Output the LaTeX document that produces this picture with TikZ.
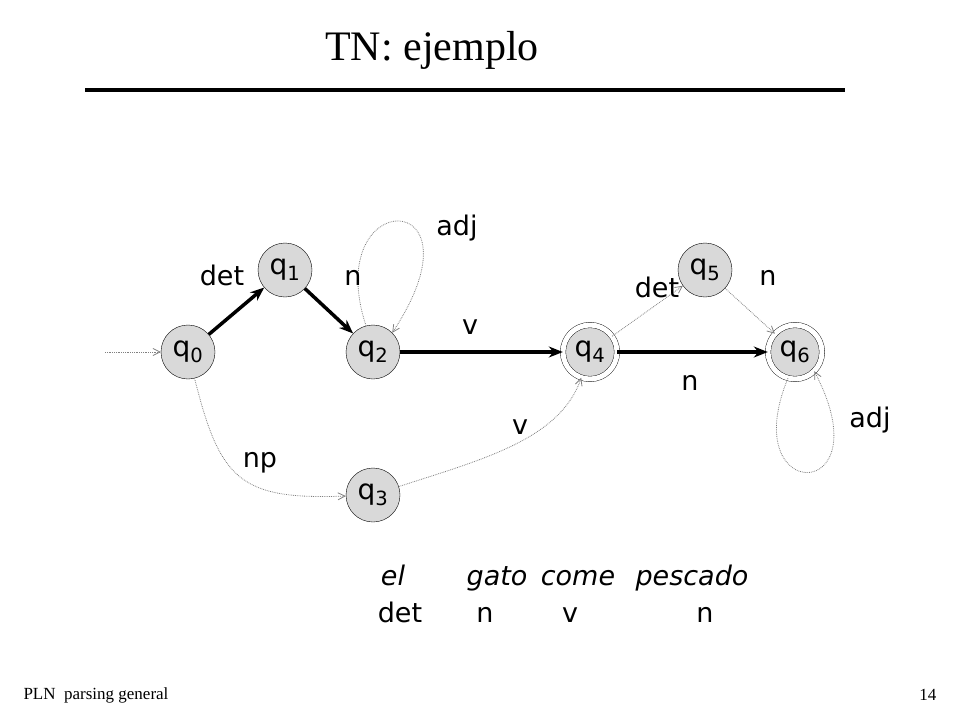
\documentclass[tikz,border=0pt]{standalone}
\usepackage{fontspec}
\setmainfont{Liberation Serif}
\newfontfamily\lblfont{DejaVu Sans}
\usetikzlibrary{arrows.meta}
\definecolor{stategray}{RGB}{217,217,217}
\tikzset{
  state/.style={circle, draw, fill=stategray, minimum size=54pt, inner sep=0pt, font=\lblfont\fontsize{28}{30}\selectfont},
  accept/.style={state, minimum size=54pt, double=white, double distance=5pt},
  bold/.style={line width=3.5pt, -{Stealth[length=14pt,width=11pt]}},
  faint/.style={gray, densely dotted, line width=0.8pt, -{Straight Barb[length=7pt,width=7pt]}},
  lbl/.style={font=\lblfont\fontsize{27}{29}\selectfont, text height=20pt, text depth=6pt},
  word/.style={lbl, font=\lblfont\itshape\fontsize{27}{29}\selectfont}
}
\begin{document}
\begin{tikzpicture}[x=1pt, y=-1pt]
  \useasboundingbox (0,0) rectangle (960,720);
  % title
  \node[font=\fontsize{42}{46}\selectfont] (title) at (432,50) {TN: ejemplo};
  \draw[line width=4pt] (85,90) -- (845,90);
  % states
  \node[state] (q0) at (188,352) {q\textsubscript{0}};
  \node[state] (q1) at (285,270) {q\textsubscript{1}};
  \node[state] (q2) at (373,352) {q\textsubscript{2}};
  \node[state] (q3) at (373,495) {q\textsubscript{3}};
  \node[accept] (q4) at (590,352) {q\textsubscript{4}};
  \node[state] (q5) at (705,270) {q\textsubscript{5}};
  \node[accept] (q6) at (795,352) {q\textsubscript{6}};
  \coordinate (start) at (105,352);
  % arcs
  \draw[faint] (start) -- (q0);
  \draw[bold] (q0) -- (q1);
  \draw[bold] (q1) -- (q2);
  \draw[bold] (q2) -- (q4);
  \draw[bold] (q4) -- (q6);
  \draw[faint] (q4) -- (q5);
  \draw[faint] (q5) -- (q6);
  \draw[faint] (q0) .. controls (220,480) and (240,500) .. (q3);
  \draw[faint] (q3) .. controls (480,460) and (560,440) .. (q4);
  \draw[faint] (q2.105) .. controls (320,185) and (490,185) .. (q2.45);
  \draw[faint] (q6.255) .. controls (735,505) and (885,505) .. (q6.315);
  % labels
  \node[lbl] (l1) at (222,278) {det};
  \node[lbl] (l2) at (353,278) {n};
  \node[lbl] (l3) at (457,228) {adj};
  \node[lbl] (l4) at (470,327) {v};
  \node[lbl] (l5) at (657,290) {det};
  \node[lbl] (l6) at (768,278) {n};
  \node[lbl] (l7) at (690,383) {n};
  \node[lbl] (l8) at (520,427) {v};
  \node[lbl] (l9) at (870,420) {adj};
  \node[lbl] (l10) at (260,460) {np};
  % example sentence
  \node[word] (w1) at (393,578) {el};
  \node[word] (w2) at (497,578) {gato};
  \node[word] (w3) at (578,578) {come};
  \node[word] (w4) at (692,578) {pescado};
  \node[lbl] (c1) at (400,615) {det};
  \node[lbl] (c2) at (485,615) {n};
  \node[lbl] (c3) at (570,615) {v};
  \node[lbl] (c4) at (705,615) {n};
  % footer
  \node[font=\fontsize{17}{19}\selectfont, anchor=west] (foot) at (20,695) {PLN \ parsing general};
  \node[font=\fontsize{17}{19}\selectfont, anchor=east] (page) at (940,695) {14};
\end{tikzpicture}
\end{document}
